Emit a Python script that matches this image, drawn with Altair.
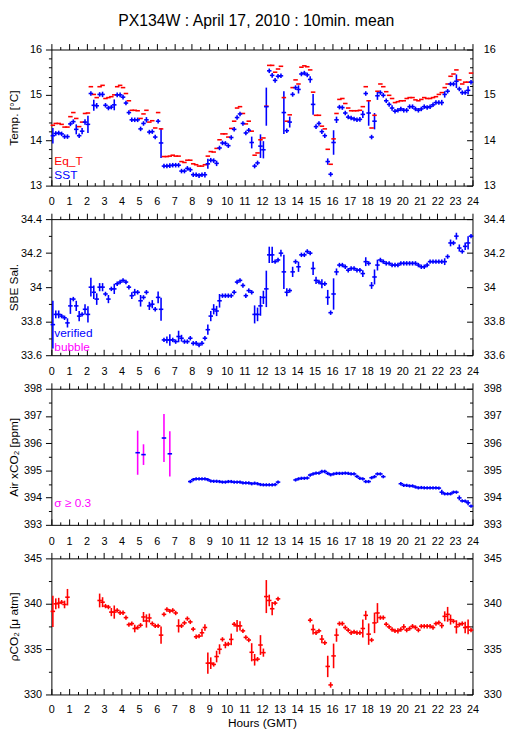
import altair as alt
import pandas as pd

TITLE = "PX134W : April 17, 2010 : 10min. mean"
FONT = "Liberation Sans"
RED, BLUE, MAGENTA, BLACK = "#ff0000", "#0000ff", "#ff00ff", "#000000"
W, H = 427, 138

HOURS = list(range(25))
HALF_HOURS = [h + 0.5 for h in range(24)]

# ---------------- 10-minute means, 144 per day ----------------
EQ_T = [
    14.33, 14.37, 14.37, 14.35, 14.29, 14.29,
    14.52, 14.61, 14.48, 14.30, 14.40, 14.59,
    14.60, 15.18, 15.01, 14.94, 15.18, 15.21,
    14.92, 14.94, 14.96, 15.00, 15.18, 15.21,
    15.16, 15.03, 14.87, 14.66, 14.66, 14.65,
    14.48, 14.58, 14.66, 14.40, 14.43, 14.27,
    14.61, 14.25, 13.64, 13.64, 13.65, 13.67,
    13.65, 13.65, 13.53, 13.51, 13.56, 13.56,
    13.48, 13.46, 13.43, 13.43, 13.46, 13.65,
    13.75, 13.74, 13.82, 14.01, 14.14, 14.14,
    14.07, 14.26, 14.42, 14.71, 14.74, 14.59,
    14.36, 14.42, 14.20, 13.67, 13.72, 14.01,
    14.05, 14.75, 15.65, 15.65, 15.50, 15.57,
    15.63, 14.94, 14.42, 14.56, 15.16, 15.33,
    15.24, 15.61, 15.64, 15.62, 15.55, 15.06,
    14.55, 14.55, 14.31, 14.25, 13.80, 13.47,
    14.03, 14.59, 14.90, 14.92, 14.81, 14.71,
    14.65, 14.65, 14.65, 14.66, 14.74, 15.18,
    14.87, 14.27, 14.55, 15.08, 15.24, 15.18,
    15.07, 14.99, 14.92, 14.83, 14.85, 14.87,
    14.87, 14.92, 14.94, 14.94, 14.89, 14.87,
    14.90, 14.94, 14.92, 14.92, 14.94, 14.96,
    15.01, 15.05, 15.16, 15.24, 15.41, 15.46,
    15.55, 15.33, 15.24, 15.28, 15.28, 15.48,
]
SST = [
    14.10, 14.15, 14.16, 14.14, 14.08, 14.08,
    14.36, 14.41, 14.24, 14.10, 14.20, 14.40,
    14.35, 15.03, 14.77, 14.76, 15.01, 15.01,
    14.77, 14.71, 14.73, 14.78, 15.00, 15.00,
    14.95, 14.82, 14.61, 14.45, 14.45, 14.45,
    14.25, 14.37, 14.45, 14.18, 14.19, 14.07,
    14.42, 13.94, 13.43, 13.43, 13.44, 13.45,
    13.45, 13.45, 13.32, 13.32, 13.38, 13.35,
    13.24, 13.24, 13.22, 13.24, 13.24, 13.48,
    13.56, 13.55, 13.49, 13.83, 13.94, 13.93,
    13.88, 14.06, 14.24, 14.50, 14.58, 14.37,
    14.16, 14.22, 13.95, 13.43, 13.50, 13.87,
    13.79, 14.74, 15.53, 15.43, 15.32, 15.41,
    15.42, 14.61, 14.21, 14.40, 15.01, 15.16,
    15.12, 15.46, 15.48, 15.44, 15.34, 14.79,
    14.30, 14.37, 14.19, 14.10, 13.53, 13.25,
    13.95, 14.45, 14.73, 14.72, 14.60, 14.51,
    14.49, 14.47, 14.45, 14.46, 14.57, 15.03,
    14.60, 14.07, 14.42, 14.98, 15.05, 14.99,
    14.87, 14.79, 14.71, 14.64, 14.66, 14.69,
    14.66, 14.66, 14.74, 14.74, 14.69, 14.66,
    14.69, 14.74, 14.72, 14.74, 14.78, 14.83,
    14.83, 14.83, 15.01, 15.08, 15.24, 15.24,
    15.30, 15.13, 15.05, 15.05, 15.10, 15.28,
]
SST_SD_TYPICAL = 0.05
SST_SD_LARGE = {0: 0.17, 8: 0.11, 10: 0.07, 11: 0.06, 12: 0.19, 14: 0.12, 15: 0.06,
                17: 0.06, 21: 0.12, 32: 0.06, 37: 0.33, 52: 0.06, 53: 0.11, 56: 0.06,
                68: 0.13, 71: 0.26, 72: 0.19, 73: 0.42, 79: 0.47, 81: 0.12, 84: 0.09,
                88: 0.07, 89: 0.23, 94: 0.07, 96: 0.27, 97: 0.07, 106: 0.08, 108: 0.28,
                110: 0.18, 111: 0.09, 116: 0.06, 133: 0.06, 134: 0.07, 138: 0.15, 142: 0.09}

SAL = [
    33.78, 33.84, 33.84, 33.83, 33.82, 33.79,
    33.89, 33.93, 33.89, 33.83, 33.84, 33.87,
    33.84, 34.00, 33.97, 33.93, 34.00, 34.00,
    33.96, 33.93, 33.99, 33.99, 34.02, 34.03,
    34.04, 34.03, 34.00, 33.95, 33.97, 33.97,
    33.92, 33.94, 33.97, 33.89, 33.90, 33.87,
    33.94, 33.87, 33.69, 33.69, 33.69, 33.69,
    33.68, 33.71, 33.70, 33.68, 33.68, 33.70,
    33.67, 33.67, 33.66, 33.67, 33.70, 33.75,
    33.83, 33.87, 33.86, 33.92, 33.95, 33.95,
    33.95, 33.95, 33.97, 34.03, 34.04, 34.01,
    33.95, 33.98, 33.97, 33.84, 33.84, 33.89,
    33.94, 33.99, 34.19, 34.19, 34.15, 34.16,
    34.20, 34.09, 33.97, 33.98, 34.09, 34.15,
    34.12, 34.19, 34.19, 34.21, 34.20, 34.11,
    34.04, 34.03, 34.02, 34.02, 33.94, 33.85,
    33.96, 34.09, 34.13, 34.13, 34.12, 34.10,
    34.11, 34.11, 34.10, 34.10, 34.08, 34.15,
    34.14, 34.01, 34.06, 34.13, 34.16, 34.15,
    34.14, 34.14, 34.13, 34.13, 34.13, 34.14,
    34.14, 34.14, 34.14, 34.14, 34.14, 34.13,
    34.12, 34.12, 34.13, 34.15, 34.15, 34.15,
    34.15, 34.15, 34.15, 34.18, 34.26, 34.26,
    34.30, 34.23, 34.21, 34.24, 34.26, 34.30,
]
SAL_SD_TYPICAL = 0.013
SAL_SD_LARGE = {0: 0.14, 1: 0.023, 2: 0.023, 5: 0.027, 6: 0.047, 8: 0.03, 9: 0.03, 11: 0.03,
                12: 0.048, 13: 0.055, 14: 0.04, 15: 0.034, 16: 0.024, 17: 0.024, 19: 0.024,
                21: 0.03, 27: 0.02, 28: 0.02, 30: 0.034, 33: 0.024, 34: 0.024, 36: 0.034,
                37: 0.068, 39: 0.02, 40: 0.034, 43: 0.034, 44: 0.02, 53: 0.03, 54: 0.03,
                55: 0.03, 56: 0.03, 57: 0.04, 69: 0.053, 70: 0.04, 71: 0.058, 72: 0.039,
                73: 0.107, 74: 0.048, 75: 0.048, 78: 0.02, 79: 0.1, 80: 0.024, 82: 0.03,
                84: 0.03, 89: 0.039, 90: 0.021, 92: 0.027, 94: 0.044, 96: 0.092, 97: 0.02,
                106: 0.02, 107: 0.026, 109: 0.02, 110: 0.044, 111: 0.032, 134: 0.02,
                136: 0.02, 138: 0.02, 139: 0.021, 141: 0.022, 142: 0.039}

_ = None
AIR_XCO2 = (
    [_] * 29 + [395.65, _, 395.58] + [_] * 6 + [396.19, _, 395.61] + [_] * 6 +
    [394.59, 394.66, 394.69, 394.69, 394.69, 394.69, 394.66, 394.61, 394.60, 394.60,
     394.59, 394.57, 394.57, 394.59, 394.59, 394.57, 394.57, 394.57, 394.54, 394.54,
     394.54, 394.51, 394.53,
     394.51, 394.48, 394.47, 394.47, 394.47, 394.47, 394.48, 394.57] +
    [_] * 5 +
    [394.65, 394.69, 394.71, 394.71, 394.72, 394.83, 394.87, 394.90, 394.90, 394.96,
     394.96, 394.89, 394.84, 394.87, 394.89, 394.89, 394.89, 394.90, 394.89, 394.87,
     394.87, 394.78, 394.71, 394.69, 394.59, 394.59, 394.73, 394.77, 394.87, 394.87,
     394.77] +
    [_] * 5 +
    [394.51, 394.45, 394.45, 394.43, 394.43, 394.39, 394.36, 394.37, 394.36, 394.36,
     394.36, 394.36, 394.36, 394.35, 394.20, 394.14, 394.14, 394.14, 394.20, 394.20,
     393.99, 393.88, 393.87, 393.81, 393.69]
)
AIR_SD_TYPICAL = 0.06
AIR_SD_LARGE = {29: 0.81, 31: 0.38, 38: 0.88, 40: 0.83, 133: 0.09, 139: 0.09, 142: 0.09}

PCO2 = (
    [339.16, 339.99, 340.07, 340.17, 339.92, 340.72] + [_] * 10 +
    [340.36, 340.17, 339.74, 339.63, 339.08, 339.08,
     339.27, 339.01, 339.01, 338.47, 337.70, 337.81,
     337.27, 337.38, 337.63, 338.54, 338.10, 338.43,
     337.81, 337.56, 337.56, 336.54, 338.83, 339.37,
     339.19, 339.27, 338.98, 337.56, 337.56, 337.89,
     338.36, 338.00, 337.20, 336.36, 336.43, 336.80,
     337.38, 333.45, 333.45, 333.31, 334.18, 334.98,
     336.07, 335.45, 335.56, 336.07, 337.74, 337.56,
     337.56, 337.01, 336.29, 336.00, 334.65, 333.82,
     333.89, 335.45, 334.61, 340.79, 340.36, 339.45, 340.07, 340.54] + [_] * 10 +
    [338.18, 337.16, 336.80, 337.01, 336.10, 335.70,
     333.09, 331.05, 334.25, 336.54, 337.81, 337.81,
     337.38, 337.09, 336.80, 336.90, 336.80, 336.80,
     337.27, 338.72, 336.65, 336.00, 337.89, 338.98,
     338.47, 338.47, 337.74, 337.45, 337.16, 337.01,
     337.01, 337.16, 337.45, 337.09, 337.27, 337.52,
     337.38, 337.09, 337.52, 337.52, 337.52, 337.52,
     337.38, 337.81, 337.92, 337.59, 338.61, 338.83,
     338.25, 338.07, 337.45, 337.70, 337.81, 337.38,
     337.45, 337.09]
)
PCO2_SD_TYPICAL = 0.24
PCO2_SD_LARGE = {0: 1.73, 1: 0.6, 2: 0.58, 4: 0.42, 5: 0.91, 16: 0.76, 17: 0.55, 20: 0.45,
                 21: 0.73, 28: 0.42, 31: 0.55, 32: 0.73, 33: 0.49, 37: 0.95, 43: 0.73,
                 51: 0.45, 52: 0.36, 53: 1.18, 54: 0.64, 56: 0.64, 57: 0.55, 59: 0.36,
                 61: 0.64, 63: 0.64, 64: 0.5, 68: 1.0, 69: 0.64, 71: 1.09, 72: 0.45,
                 73: 1.82, 74: 0.64, 75: 0.73, 89: 0.55, 92: 0.45, 94: 1.18, 95: 0.3,
                 96: 1.36, 97: 0.73, 106: 1.0, 107: 0.5, 108: 1.18, 110: 1.13, 111: 1.09,
                 118: 0.3, 120: 0.3, 133: 0.3, 134: 0.55, 135: 0.82, 136: 0.55, 138: 0.73,
                 141: 0.64, 142: 0.82}

for arr in (EQ_T, SST, SAL, AIR_XCO2, PCO2):
    assert len(arr) == 144, len(arr)


def sd_list(typical, large):
    return [large.get(i, typical) for i in range(144)]


def hrows(vals, color):
    return pd.DataFrame([dict(t0=i / 6, t1=(i + 1) / 6, v=v, c=color)
                         for i, v in enumerate(vals) if v is not None])


def vrows(vals, sds, color, big_color=None, thr=None):
    rows = []
    for i, (v, s) in enumerate(zip(vals, sds)):
        if v is None:
            continue
        c = big_color if (thr is not None and s >= thr) else color
        rows.append(dict(tc=(i + 0.5) / 6, lo=v - s, hi=v + s, c=c))
    return pd.DataFrame(rows)


XS = alt.Scale(domain=[0, 24], nice=False, zero=False)
COMMON = dict(grid=False, domainColor=BLACK, tickColor=BLACK, labelColor=BLACK,
              titleColor=BLACK, labelFont=FONT, titleFont=FONT, domainWidth=1, tickWidth=1)
SW = 1.6


def panel(ydom, ymajor, yminor, ytitle, hsegs, vsegs, texts, xtitle=None, xlabpad=11):
    ys = alt.Scale(domain=ydom, nice=False, zero=False)
    layers = []
    for df in vsegs:
        layers.append(alt.Chart(df).mark_rule(strokeWidth=SW).encode(
            x=alt.X("tc:Q", scale=XS, axis=None),
            y=alt.Y("lo:Q", scale=ys, axis=None), y2="hi:Q",
            color=alt.Color("c:N", scale=None)))
    for df in hsegs:
        layers.append(alt.Chart(df).mark_rule(strokeWidth=SW, strokeCap="square").encode(
            x=alt.X("t0:Q", scale=XS, axis=None), x2="t1:Q",
            y=alt.Y("v:Q", scale=ys, axis=None),
            color=alt.Color("c:N", scale=None)))

    bottom_lab = dict(orient="bottom", values=HOURS, ticks=False, domain=False,
                      labelPadding=xlabpad, labelFontSize=11, labelFlush=False,
                      labelOverlap=False, format="d", **COMMON)
    if xtitle:
        bottom_lab.update(title=xtitle, titleFontSize=12, titleFontWeight="normal",
                          titlePadding=4)
    else:
        bottom_lab.update(title=None)
    xaxes = [
        alt.Axis(orient="top", values=HOURS, tickSize=6, labels=False, domain=True,
                 title=None, **COMMON),
        alt.Axis(orient="top", values=HALF_HOURS, tickSize=3, labels=False, domain=False,
                 title=None, **COMMON),
        alt.Axis(orient="top", offset=-H, values=HOURS, tickSize=6, labels=False,
                 domain=True, title=None, **COMMON),
        alt.Axis(orient="top", offset=-H, values=HALF_HOURS, tickSize=3, labels=False,
                 domain=False, title=None, **COMMON),
        alt.Axis(**bottom_lab),
    ]
    yaxes = [
        alt.Axis(orient="left", values=ymajor, tickSize=6, labelPadding=4, labelFontSize=11,
                 format="~g", domain=True, title=ytitle, titleX=-34, titleAngle=270,
                 titleBaseline="alphabetic", titleFontSize=12, titleFontWeight="normal",
                 **COMMON),
        alt.Axis(orient="left", values=yminor, tickSize=3, labels=False, domain=False,
                 title=None, **COMMON),
        alt.Axis(orient="left", offset=-W, values=ymajor, tickSize=6, labels=False,
                 domain=True, title=None, **COMMON),
        alt.Axis(orient="left", offset=-W, values=yminor, tickSize=3, labels=False,
                 domain=False, title=None, **COMMON),
        alt.Axis(orient="right", values=ymajor, ticks=False, domain=False, labelPadding=11,
                 labelFontSize=11, format="~g", title=None, **COMMON),
    ]
    anchor = pd.DataFrame({"x": [0.0], "y": [ydom[0]]})
    for xa, ya in zip(xaxes, yaxes):
        layers.append(alt.Chart(anchor).mark_point(opacity=0).encode(
            x=alt.X("x:Q", scale=XS, axis=xa), y=alt.Y("y:Q", scale=ys, axis=ya)))
    for txt, col, ypix in texts:
        layers.append(alt.Chart(pd.DataFrame({"s": [txt]})).mark_text(
            align="left", baseline="middle", font=FONT, fontSize=12, color=col).encode(
            x=alt.value(3), y=alt.value(ypix), text="s:N"))
    return alt.layer(*layers).resolve_axis(x="independent", y="independent").properties(
        width=W, height=H)


def minors(lo, hi, step, major_every):
    n = int(round((hi - lo) / step))
    return [round(lo + k * step, 3) for k in range(n + 1) if k % major_every]


p1 = panel([13, 16], [13, 14, 15, 16], minors(13, 16, 0.2, 5), "Temp. [°C]",
           [hrows(EQ_T, RED), hrows(SST, BLUE)],
           [vrows(SST, sd_list(SST_SD_TYPICAL, SST_SD_LARGE), BLUE)],
           [("Eq_T", RED, 113.5), ("SST", BLUE, 127.5)], xlabpad=10)
p2 = panel([33.6, 34.4], [33.6, 33.8, 34.0, 34.2, 34.4], minors(33.6, 34.4, 0.1, 2),
           "SBE Sal.",
           [hrows(SAL, BLUE)],
           [vrows(SAL, sd_list(SAL_SD_TYPICAL, SAL_SD_LARGE), BLUE)],
           [("verified", BLUE, 115.5), ("bubble", MAGENTA, 129.5)])
p3 = panel([393, 398], [393, 394, 395, 396, 397, 398], minors(393, 398, 0.5, 2),
           "Air xCO₂ [ppm]",
           [hrows(AIR_XCO2, BLUE)],
           [vrows(AIR_XCO2, sd_list(AIR_SD_TYPICAL, AIR_SD_LARGE), BLUE, MAGENTA, 0.3)],
           [("σ ≥ 0.3", MAGENTA, 115.5)])
p4 = panel([330, 345], [330, 335, 340, 345], minors(330, 345, 2.5, 2),
           "ρCO₂ [μ atm]",
           [hrows(PCO2, RED)],
           [vrows(PCO2, sd_list(PCO2_SD_TYPICAL, PCO2_SD_LARGE), RED)],
           [], xtitle="Hours (GMT)", xlabpad=9)

chart = alt.vconcat(p1, p2, p3, p4, spacing=34, bounds="flush").properties(
    title=alt.TitleParams(TITLE, font=FONT, fontSize=16, fontWeight="normal",
                          anchor="middle", color=BLACK, offset=14),
    padding={"left": 0, "top": 0, "right": 2, "bottom": 0},
).configure_view(stroke=None)

chart.save("out.html", embed_options={"renderer": "svg", "actions": False})
